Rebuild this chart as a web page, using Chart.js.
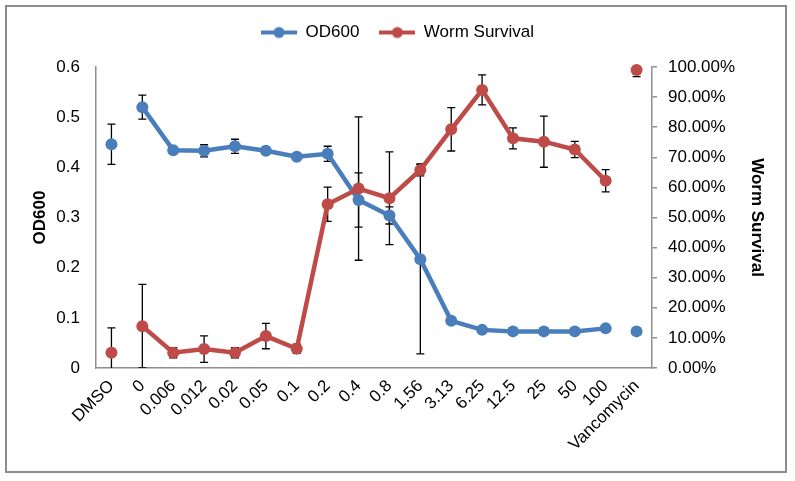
<!DOCTYPE html>
<html><head><meta charset="utf-8">
<script src="https://cdn.jsdelivr.net/npm/chart.js@4/dist/chart.umd.min.js"></script>
<style>html,body{margin:0;padding:0;background:#fff;} canvas{display:block;}</style>
</head><body>
<canvas id="c" width="795" height="481"></canvas>
<script>
const categories = ['DMSO','0','0.006','0.012','0.02','0.05','0.1','0.2','0.4','0.8','1.56','3.13','6.25','12.5','25','50','100','Vancomycin'];
const od600 = [0.446, 0.520, 0.434, 0.433, 0.442, 0.433, 0.421, 0.427, 0.335, 0.304, 0.217, 0.094, 0.076, 0.073, 0.073, 0.073, 0.079, 0.073];
const od600Err = [0.040, 0.024, 0.003, 0.012, 0.014, 0.003, 0.003, 0.015, 0.054, 0.017, 0.189, 0.003, 0.003, 0.003, 0.003, 0.003, 0.003, 0.003];
const survival = [5.1, 13.9, 5.1, 6.3, 5.1, 10.6, 6.4, 54.4, 59.6, 56.4, 65.8, 79.3, 92.4, 76.3, 75.2, 72.6, 62.2, 99.0];
const survivalErr = [8.2, 13.9, 1.7, 4.4, 1.7, 4.2, 1.5, 5.7, 23.8, 15.4, 2.0, 7.2, 5.0, 3.5, 8.5, 2.7, 3.7, 2.2];
const leftTicks = [0, 0.1, 0.2, 0.3, 0.4, 0.5, 0.6];
const rightTicks = [0, 10, 20, 30, 40, 50, 60, 70, 80, 90, 100];

const BLUE = '#4a7ebb', RED = '#be4b48', AXIS = '#8e8e8e';
const FONT = "'Liberation Sans', Arial, sans-serif";

function legendIcon(color){
  const c = document.createElement('canvas'); c.width = 36; c.height = 14;
  const g = c.getContext('2d');
  g.strokeStyle = color; g.lineWidth = 4;
  g.beginPath(); g.moveTo(0,7); g.lineTo(36,7); g.stroke();
  g.fillStyle = color; g.beginPath(); g.arc(18,7,5.5,0,Math.PI*2); g.fill();
  return c;
}

const lastIdx = categories.length - 1;
function gapSeg(color){
  return ctx => (ctx.p0DataIndex === 0 || ctx.p1DataIndex === lastIdx) ? 'rgba(0,0,0,0)' : color;
}

const errorBars = {
  id: 'errorBars',
  beforeDatasetsDraw(chart){
    const ctx = chart.ctx, a = chart.chartArea;
    ctx.save();
    ctx.beginPath(); ctx.rect(a.left, a.top - 1, a.right - a.left, a.bottom - a.top + 1); ctx.clip();
    ctx.strokeStyle = '#000'; ctx.lineWidth = 1.3;
    chart.data.datasets.forEach((ds, di) => {
      const meta = chart.getDatasetMeta(di);
      const sc = chart.scales[ds.yAxisID];
      ds.errors.forEach((e, i) => {
        const v = ds.data[i]; const x = meta.data[i].x;
        const yt = sc.getPixelForValue(v + e), yb = sc.getPixelForValue(v - e);
        ctx.beginPath();
        ctx.moveTo(x, yt); ctx.lineTo(x, yb);
        ctx.moveTo(x - 4, yt); ctx.lineTo(x + 4, yt);
        ctx.moveTo(x - 4, yb); ctx.lineTo(x + 4, yb);
        ctx.stroke();
      });
    });
    ctx.restore();
  }
};

const frame = {
  id: 'frame',
  beforeDraw(chart){
    const ctx = chart.ctx;
    ctx.save(); ctx.fillStyle = '#fff'; ctx.fillRect(0,0,chart.width,chart.height);
    ctx.strokeStyle = '#8c8c8c'; ctx.lineWidth = 2; ctx.strokeRect(6,6,780,466);
    ctx.restore();
  }
};

const legendHeight = {
  id: 'legendHeight',
  beforeInit(chart){
    const orig = chart.legend.fit;
    chart.legend.fit = function(){ orig.call(this); this.height = 63; };
  }
};

new Chart(document.getElementById('c'), {
  type: 'line',
  data: {
    labels: categories,
    datasets: [
      { label: 'OD600', data: od600, errors: od600Err, yAxisID: 'y', order: 2, clip: 10,
        borderColor: BLUE, backgroundColor: BLUE, pointBackgroundColor: BLUE, pointBorderWidth: 0,
        pointStyle: 'circle', pointRadius: 6, borderWidth: 4.5, tension: 0, segment: { borderColor: gapSeg(BLUE) },
        legendIcon: legendIcon(BLUE) },
      { label: 'Worm Survival', data: survival, errors: survivalErr, yAxisID: 'y1', order: 1, clip: 10,
        borderColor: RED, backgroundColor: RED, pointBackgroundColor: RED, pointBorderWidth: 0,
        pointStyle: 'circle', pointRadius: 6, borderWidth: 4.5, tension: 0, segment: { borderColor: gapSeg(RED) },
        legendIcon: legendIcon(RED) }
    ]
  },
  options: {
    responsive: false, animation: false, devicePixelRatio: 1,
    events: [],
    layout: { padding: { top: 4, left: 0, right: 0, bottom: 0 } },
    plugins: {
      tooltip: { enabled: false },
      legend: {
        position: 'top', align: 'center',
        labels: {
          usePointStyle: true, pointStyleWidth: 36, padding: 20, color: '#000',
          font: { family: FONT, size: 17 },
          generateLabels(chart){
            return chart.data.datasets.map((ds, i) => ({
              text: ds.label, pointStyle: ds.legendIcon, datasetIndex: i,
              fillStyle: ds.borderColor, strokeStyle: ds.borderColor, lineWidth: 0, hidden: false, fontColor: '#000'
            }));
          }
        }
      }
    },
    scales: {
      x: {
        offset: true,
        grid: { display: false, drawTicks: false },
        border: { display: true, color: AXIS, width: 1.5 },
        ticks: { autoSkip: false, minRotation: 45, maxRotation: 45, padding: 8, color: '#000', font: { family: FONT, size: 17 } },
        afterFit(s){ s.height = 113; }
      },
      y: {
        position: 'left', min: 0, max: 0.6,
        afterBuildTicks(s){ s.ticks = leftTicks.map(v => ({ value: v })); },
        grid: { display: false, drawTicks: false },
        border: { display: true, color: AXIS, width: 1.5 },
        ticks: { padding: 16, color: '#000', font: { family: FONT, size: 17 }, callback: v => String(v) },
        title: { display: true, text: 'OD600', color: '#000', font: { family: FONT, size: 17, weight: 'bold' }, padding: { top: 30, bottom: 0 } },
        afterFit(s){ s.width = 96; }
      },
      y1: {
        position: 'right', min: 0, max: 100,
        afterBuildTicks(s){ s.ticks = rightTicks.map(v => ({ value: v })); },
        grid: { display: true, drawOnChartArea: false, drawTicks: true, tickLength: 5, color: AXIS, lineWidth: 1.5 },
        border: { display: true, color: AXIS, width: 1.5 },
        ticks: { padding: 11, color: '#000', font: { family: FONT, size: 17 }, callback: v => v.toFixed(2) + '%' },
        title: { display: true, text: 'Worm Survival', color: '#000', font: { family: FONT, size: 17, weight: 'bold' }, padding: { top: 28, bottom: 0 } },
        afterFit(s){ s.width = 143; }
      }
    }
  },
  plugins: [frame, legendHeight, errorBars]
});
</script>
</body></html>
